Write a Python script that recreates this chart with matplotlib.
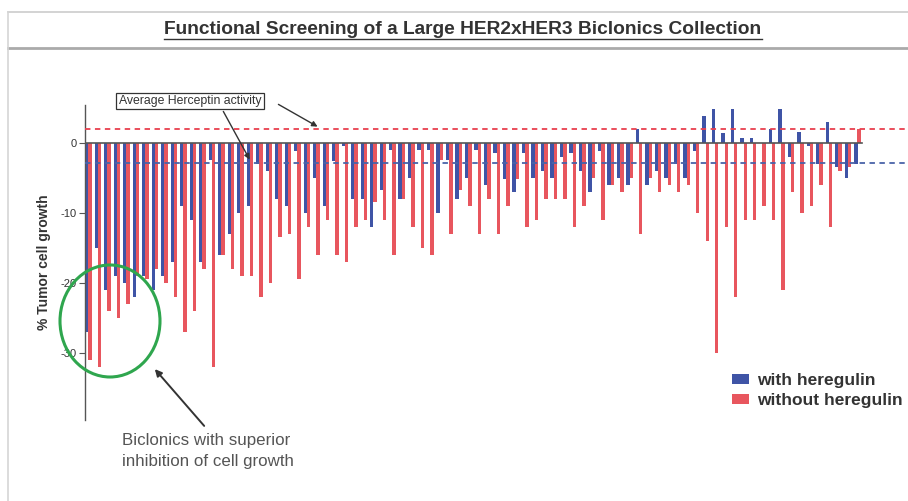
import matplotlib
matplotlib.use("Agg")
import matplotlib.pyplot as plt
from matplotlib.lines import Line2D
from matplotlib.patches import Ellipse
import numpy as np

# ---- data ----
with_heregulin = [-27, -15, -21, -19, -20, -22, -19, -21, -19, -17,
                  -9, -11, -17, -2.4, -16, -13, -10, -9, -3, -4,
                  -8, -9, -1.2, -10, -5, -9, -2.6, -0.5, -8, -8,
                  -12, -6.7, -1, -8, -5, -1, -1, -10, -2.4, -8,
                  -5, -1, -6, -1.5, -5.2, -7, -1.4, -5, -4, -5,
                  -2, -1.4, -4, -7, -1.2, -6, -5, -6, 2, -6,
                  -4, -5, -3, -5, -1.2, 3.8, 4.8, 1.4, 4.8, 0.7,
                  0.7, 0, 2, 4.8, -2, 1.6, -0.5, -3, 3, -3.5, -5, -3]
without_heregulin = [-31, -32, -24, -25, -23, -19, -19.5, -18, -20, -22,
                     -27, -24, -18, -32, -16, -18, -19, -19, -22, -20,
                     -13.5, -13, -19.5, -12, -16, -11, -16, -17, -12, -11,
                     -8.4, -11, -16, -8, -12, -15, -16, -2.4, -13, -6.7,
                     -9, -13, -8, -13, -9, -5.2, -12, -11, -8, -8,
                     -8, -12, -9, -5, -11, -6, -7, -5, -13, -5,
                     -7, -6, -7, -6, -10, -14, -30, -12, -22, -11,
                     -11, -9, -11, -21, -7, -10, -9, -6, -12, -4, -3.5, 2]
herceptin_without = 2.0
herceptin_with = -2.9
y_ticks = [0, -10, -20, -30]
title = "Functional Screening of a Large HER2xHER3 Biclonics Collection"

BLUE = "#3f54a6"
RED = "#e8565e"
FONT = ["Liberation Sans", "DejaVu Sans"]
plt.rcParams["font.family"] = FONT

fig = plt.figure(figsize=(9.08, 5.01), dpi=100)
W, H = 908, 501
def fx(px): return px / W
def fy(py): return 1 - py / H

ax = fig.add_axes([fx(85), fy(420), fx(905) - fx(85), fy(105) - fy(420)])
n = len(with_heregulin)
x = np.arange(n)
bw = 0.36
ax.bar(x - 0.17, with_heregulin, width=bw, color=BLUE, zorder=2, label="with heregulin", lw=0)
ax.bar(x + 0.17, without_heregulin, width=bw, color=RED, zorder=2, label="without heregulin", lw=0)

ax.set_xlim(-0.37, 86.0)
ax.set_ylim(-39.6, 5.4)
ax.plot([-0.37, 81.5], [0, 0], color="#555555", lw=1.2, zorder=3)
ax.axhline(herceptin_without, color="#e8404e", lw=1.3, ls=(0, (3, 2.5)), zorder=4)
ax.axhline(herceptin_with, color="#4a63a8", lw=1.3, ls=(0, (3, 2.5)), zorder=4)

for s in ["top", "right", "bottom"]:
    ax.spines[s].set_visible(False)
ax.spines["left"].set_color("#555555")
ax.spines["left"].set_linewidth(1.0)
ax.set_xticks([])
ax.set_yticks(y_ticks)
ax.set_yticklabels([str(t) for t in y_ticks], fontsize=8, color="#333333")
ax.tick_params(axis="y", length=4, width=0.8, color="#555555", pad=2)
ax.set_ylabel("% Tumor cell growth", fontsize=10, fontweight="bold", color="#333333", labelpad=7)

leg = ax.legend(loc="upper left", frameon=False, fontsize=12.5, handlelength=1.0, handleheight=0.5,
                handletextpad=0.45, labelspacing=0.28, borderaxespad=0, borderpad=0)
leg.set_bbox_to_anchor((fx(732), fy(373)), transform=fig.transFigure)
for t in leg.get_texts():
    t.set_fontweight("bold")
    t.set_color("#333333")

# header band
fig.add_artist(Line2D([fx(8), 1], [fy(12), fy(12)], color="#cccccc", lw=1.2))
fig.add_artist(Line2D([fx(8), 1], [fy(48), fy(48)], color="#aaaaaa", lw=2.0))
fig.add_artist(Line2D([fx(8), fx(8)], [fy(12), 0], color="#d5d5d5", lw=1.2))
tt = fig.text(fx(463), fy(29), title, ha="center", va="center", fontsize=13.8,
              fontweight="bold", color="#333333")
fig.canvas.draw()
bb = tt.get_window_extent()
fig.add_artist(Line2D([bb.x0 / W, bb.x1 / W], [fy(39), fy(39)], color="#333333", lw=1.0))

# Herceptin annotation
fig.text(fx(190), fy(101), "Average Herceptin activity", ha="center", va="center", fontsize=8.8,
         color="#333333", bbox=dict(boxstyle="square,pad=0.2", fc="white", ec="#333333", lw=0.9))
ax.annotate("", xy=(fx(320), fy(128)), xycoords="figure fraction",
            xytext=(fx(276), fy(103)), textcoords="figure fraction",
            arrowprops=dict(arrowstyle="-|>", color="#333333", lw=1.0, mutation_scale=8), zorder=6)
ax.annotate("", xy=(fx(251), fy(162)), xycoords="figure fraction",
            xytext=(fx(222), fy(109)), textcoords="figure fraction",
            arrowprops=dict(arrowstyle="-|>", color="#333333", lw=1.0, mutation_scale=8), zorder=6)

# green circle
fig.add_artist(Ellipse((fx(110), fy(321)), width=100 / W, height=112 / H, fill=False,
                       ec="#2fa64e", lw=2.2))
ax.annotate("", xy=(fx(153), fy(367)), xycoords="figure fraction",
            xytext=(fx(206), fy(428)), textcoords="figure fraction",
            arrowprops=dict(arrowstyle="-|>", color="#333333", lw=1.4, mutation_scale=10))
fig.text(fx(122), fy(451), "Biclonics with superior\ninhibition of cell growth", ha="left",
         va="center", fontsize=12.2, color="#555555", linespacing=1.45)

fig.savefig("out.png", dpi=100)
